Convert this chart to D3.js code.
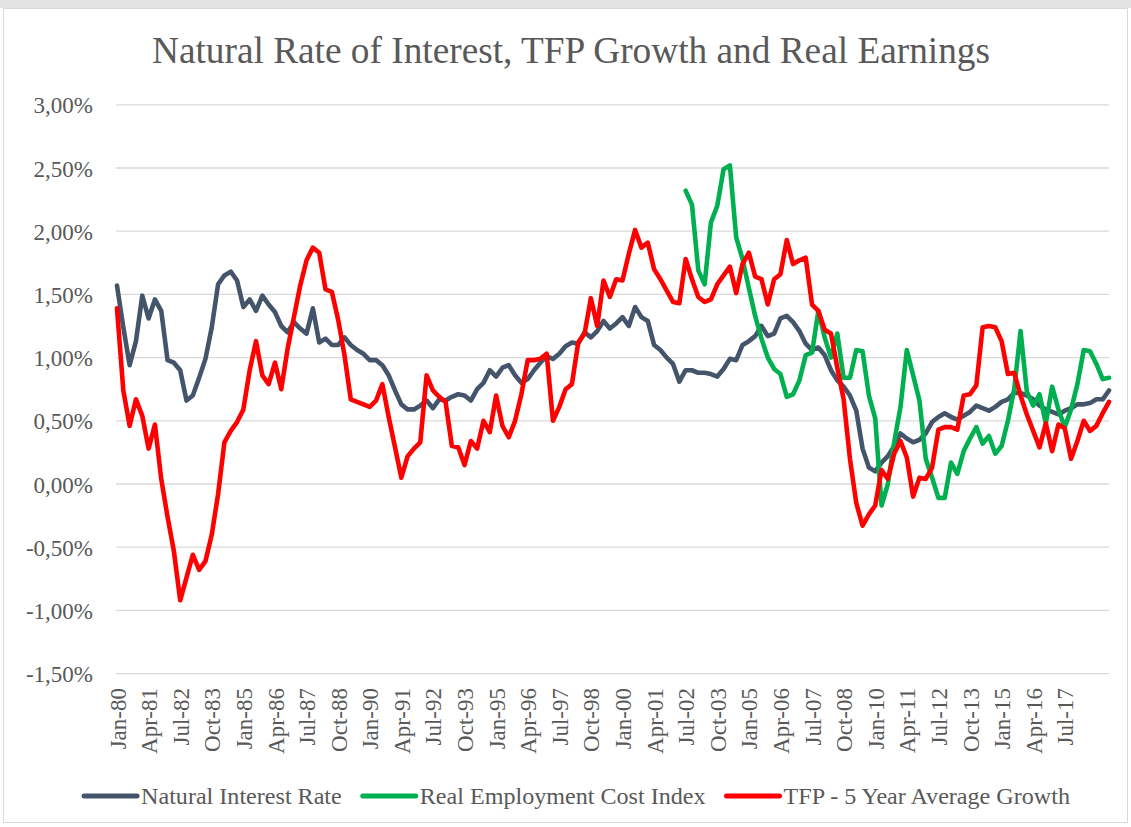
<!DOCTYPE html>
<html><head><meta charset="utf-8">
<script src="https://cdn.jsdelivr.net/npm/d3@7"></script>
<style>
html,body{margin:0;padding:0;background:#fff;}
svg{display:block;}
text{font-family:"Liberation Serif","Times New Roman",serif;fill:#595959;}
</style></head><body>
<svg id="chart" width="1131" height="827"></svg>
<script>
// ---------- DATA ----------
const quarterMonths = ["Jan", "Apr", "Jul", "Oct"];
const startYear = 1980;
const pointCount = 158;
const categories = [];
for (let i = 0; i < pointCount; i++) {
  const yr = startYear + Math.floor(i / 4);
  categories.push(quarterMonths[i % 4] + "-" + String(yr % 100).padStart(2, "0"));
}
const tickLabels = ["Jan-80","Apr-81","Jul-82","Oct-83","Jan-85","Apr-86","Jul-87","Oct-88","Jan-90","Apr-91",
  "Jul-92","Oct-93","Jan-95","Apr-96","Jul-97","Oct-98","Jan-00","Apr-01","Jul-02","Oct-03","Jan-05","Apr-06",
  "Jul-07","Oct-08","Jan-10","Apr-11","Jul-12","Oct-13","Jan-15","Apr-16","Jul-17"];
const yTicks = [-1.5, -1.0, -0.5, 0, 0.5, 1.0, 1.5, 2.0, 2.5, 3.0];

const seriesNames = ["Natural Interest Rate", "Real Employment Cost Index", "TFP - 5 Year Average Growth"];
const seriesColors = ["#44546A", "#00B050", "#FF0000"];

// Natural Interest Rate (%)
const naturalRate = [
  1.57,1.24,0.94,1.13,1.49,1.31,1.46,1.37,0.98,0.96,
  0.90,0.66,0.70,0.84,0.99,1.24,1.58,1.65,1.68,1.61,
  1.40,1.46,1.37,1.49,1.42,1.36,1.25,1.20,1.28,1.23,
  1.19,1.39,1.12,1.15,1.10,1.10,1.16,1.10,1.06,1.03,
  0.98,0.98,0.94,0.86,0.74,0.63,0.59,0.59,0.62,0.66,
  0.60,0.67,0.66,0.69,0.71,0.70,0.66,0.75,0.80,0.90,
  0.85,0.92,0.94,0.86,0.80,0.83,0.90,0.96,1.01,0.99,
  1.03,1.09,1.12,1.11,1.20,1.16,1.21,1.29,1.23,1.27,
  1.32,1.25,1.40,1.32,1.29,1.10,1.06,1.00,0.95,0.81,
  0.90,0.90,0.88,0.88,0.87,0.85,0.91,0.99,0.98,1.10,
  1.13,1.17,1.25,1.17,1.19,1.31,1.33,1.28,1.21,1.11,
  1.06,1.08,1.02,0.90,0.82,0.77,0.70,0.58,0.28,0.13,
  0.10,0.17,0.22,0.30,0.40,0.36,0.33,0.35,0.40,0.49,
  0.53,0.56,0.53,0.51,0.54,0.57,0.62,0.60,0.58,0.61,
  0.65,0.67,0.72,0.72,0.70,0.67,0.62,0.59,0.57,0.55,
  0.58,0.60,0.63,0.63,0.64,0.67,0.67,0.74
];

// Real Employment Cost Index (%), starts Jul-02
const realECI = [
  null,null,null,null,null,null,null,null,null,null,
  null,null,null,null,null,null,null,null,null,null,
  null,null,null,null,null,null,null,null,null,null,
  null,null,null,null,null,null,null,null,null,null,
  null,null,null,null,null,null,null,null,null,null,
  null,null,null,null,null,null,null,null,null,null,
  null,null,null,null,null,null,null,null,null,null,
  null,null,null,null,null,null,null,null,null,null,
  null,null,null,null,null,null,null,null,null,null,
  2.32,2.21,1.69,1.58,2.07,2.20,2.49,2.52,1.95,1.78,
  1.55,1.33,1.15,1.00,0.91,0.87,0.69,0.71,0.82,1.02,
  1.04,1.37,1.16,1.00,1.19,0.84,0.84,1.06,1.05,0.70,
  0.52,-0.17,0.00,0.33,0.61,1.06,0.86,0.66,0.20,0.05,
  -0.11,-0.11,0.17,0.08,0.26,0.36,0.45,0.32,0.38,0.24,
  0.30,0.50,0.75,1.21,0.73,0.62,0.71,0.48,0.77,0.59,
  0.45,0.59,0.79,1.06,1.05,0.95,0.83,0.84
];

// TFP - 5 Year Average Growth (%)
const tfpGrowth = [
  1.39,0.74,0.46,0.67,0.54,0.28,0.47,0.04,-0.26,-0.53,
  -0.92,-0.74,-0.56,-0.68,-0.61,-0.40,-0.08,0.33,0.42,0.49,
  0.59,0.90,1.13,0.86,0.79,0.96,0.75,1.07,1.32,1.57,
  1.77,1.87,1.83,1.54,1.52,1.30,1.02,0.67,0.65,0.63,
  0.61,0.66,0.79,0.53,0.29,0.05,0.22,0.28,0.33,0.86,
  0.74,0.69,0.65,0.30,0.29,0.15,0.34,0.28,0.50,0.41,
  0.70,0.46,0.37,0.50,0.71,0.98,0.98,0.99,1.03,0.50,
  0.61,0.75,0.79,1.12,1.19,1.47,1.25,1.61,1.48,1.62,
  1.61,1.82,2.01,1.87,1.91,1.70,1.62,1.53,1.44,1.43,
  1.78,1.62,1.48,1.44,1.46,1.58,1.65,1.72,1.51,1.74,
  1.83,1.64,1.62,1.42,1.62,1.66,1.93,1.74,1.77,1.79,
  1.42,1.37,1.22,1.19,0.92,0.67,0.20,-0.15,-0.33,-0.24,
  -0.17,0.11,0.04,0.24,0.34,0.21,-0.10,0.05,0.04,0.13,
  0.43,0.45,0.45,0.43,0.70,0.71,0.78,1.24,1.25,1.24,
  1.13,0.87,0.88,0.70,0.55,0.42,0.29,0.48,0.26,0.47,
  0.44,0.20,0.34,0.50,0.42,0.46,0.56,0.65
];

// ---------- CHART ----------
const svg = d3.select("#chart");
const W = 1131, H = 827;
const plot = {left: 117, right: 1109, top: 104.8, bottom: 673.6};
const FONT = "Liberation Serif, Times New Roman, serif";

// background & border
svg.append("rect").attr("x", 0).attr("y", 0).attr("width", W).attr("height", 8).attr("fill", "#e3e3e3");
svg.append("rect").attr("x", 3.5).attr("y", 8.5).attr("width", W - 7).attr("height", H - 13)
  .attr("fill", "#fff").attr("stroke", "#d9d9d9").attr("stroke-width", 1);

const x = d3.scalePoint().domain(categories).range([plot.left, plot.right]);
const y = d3.scaleLinear().domain([-1.5, 3]).range([plot.bottom, plot.top]);

// gridlines
svg.append("g").selectAll("line").data(yTicks).join("line")
  .attr("x1", plot.left - 1).attr("x2", plot.right)
  .attr("y1", d => y(d)).attr("y2", d => y(d))
  .attr("stroke", "#d9d9d9").attr("stroke-width", 1.3);

// y axis labels
const fmt = d => d3.format(".2f")(d).replace("\u2212", "-").replace(".", ",") + "%";
const yAxis = d3.axisLeft(y).tickValues(yTicks).tickSize(0).tickPadding(0).tickFormat(fmt);
const yg = svg.append("g").attr("transform", "translate(93,0)").call(yAxis);
yg.select(".domain").remove();
yg.selectAll("text").attr("font-size", 23).attr("font-family", FONT)
  .attr("fill", "#595959").attr("dy", "0.35em");

// x axis labels
const xAxis = d3.axisBottom(x).tickValues(tickLabels).tickSize(0).tickPadding(0);
const xg = svg.append("g").attr("transform", "translate(0,688)").call(xAxis);
xg.select(".domain").remove();
xg.selectAll("text")
  .attr("font-size", 23).attr("font-family", FONT).attr("fill", "#595959")
  .attr("transform", "rotate(-90)").attr("text-anchor", "end")
  .attr("x", 0).attr("y", 0).attr("dy", "0.35em");

// lines
const allSeries = [naturalRate, realECI, tfpGrowth];
const line = d3.line()
  .defined(d => d != null)
  .x((d, i) => x(categories[i]))
  .y(d => y(d));
allSeries.forEach((s, k) => {
  svg.append("path").datum(s).attr("d", line)
    .attr("fill", "none").attr("stroke", seriesColors[k]).attr("stroke-width", 4.6)
    .attr("stroke-linejoin", "round").attr("stroke-linecap", "round");
});

// title
svg.append("text").attr("x", 571).attr("y", 63).attr("text-anchor", "middle")
  .attr("font-size", 37.3).text("Natural Rate of Interest, TFP Growth and Real Earnings");

// legend
const legend = svg.append("g");
const sampleW = 53, gapText = 4, gapItem = 21, legendY = 796;
let items = seriesNames.map((name, k) => {
  const g = legend.append("g");
  g.append("line").attr("x1", 0).attr("x2", sampleW).attr("y1", 0).attr("y2", 0)
    .attr("stroke", seriesColors[k]).attr("stroke-width", 5).attr("stroke-linecap", "round");
  const t = g.append("text").attr("x", sampleW + gapText).attr("y", 0).attr("dy", "0.35em")
    .attr("font-size", 24.1).text(name);
  return {g, w: sampleW + gapText + t.node().getComputedTextLength()};
});
const totalW = d3.sum(items, d => d.w) + gapItem * (items.length - 1);
let cx = 577 - totalW / 2;
items.forEach(it => { it.g.attr("transform", `translate(${cx},${legendY})`); cx += it.w + gapItem; });
</script>
</body></html>
